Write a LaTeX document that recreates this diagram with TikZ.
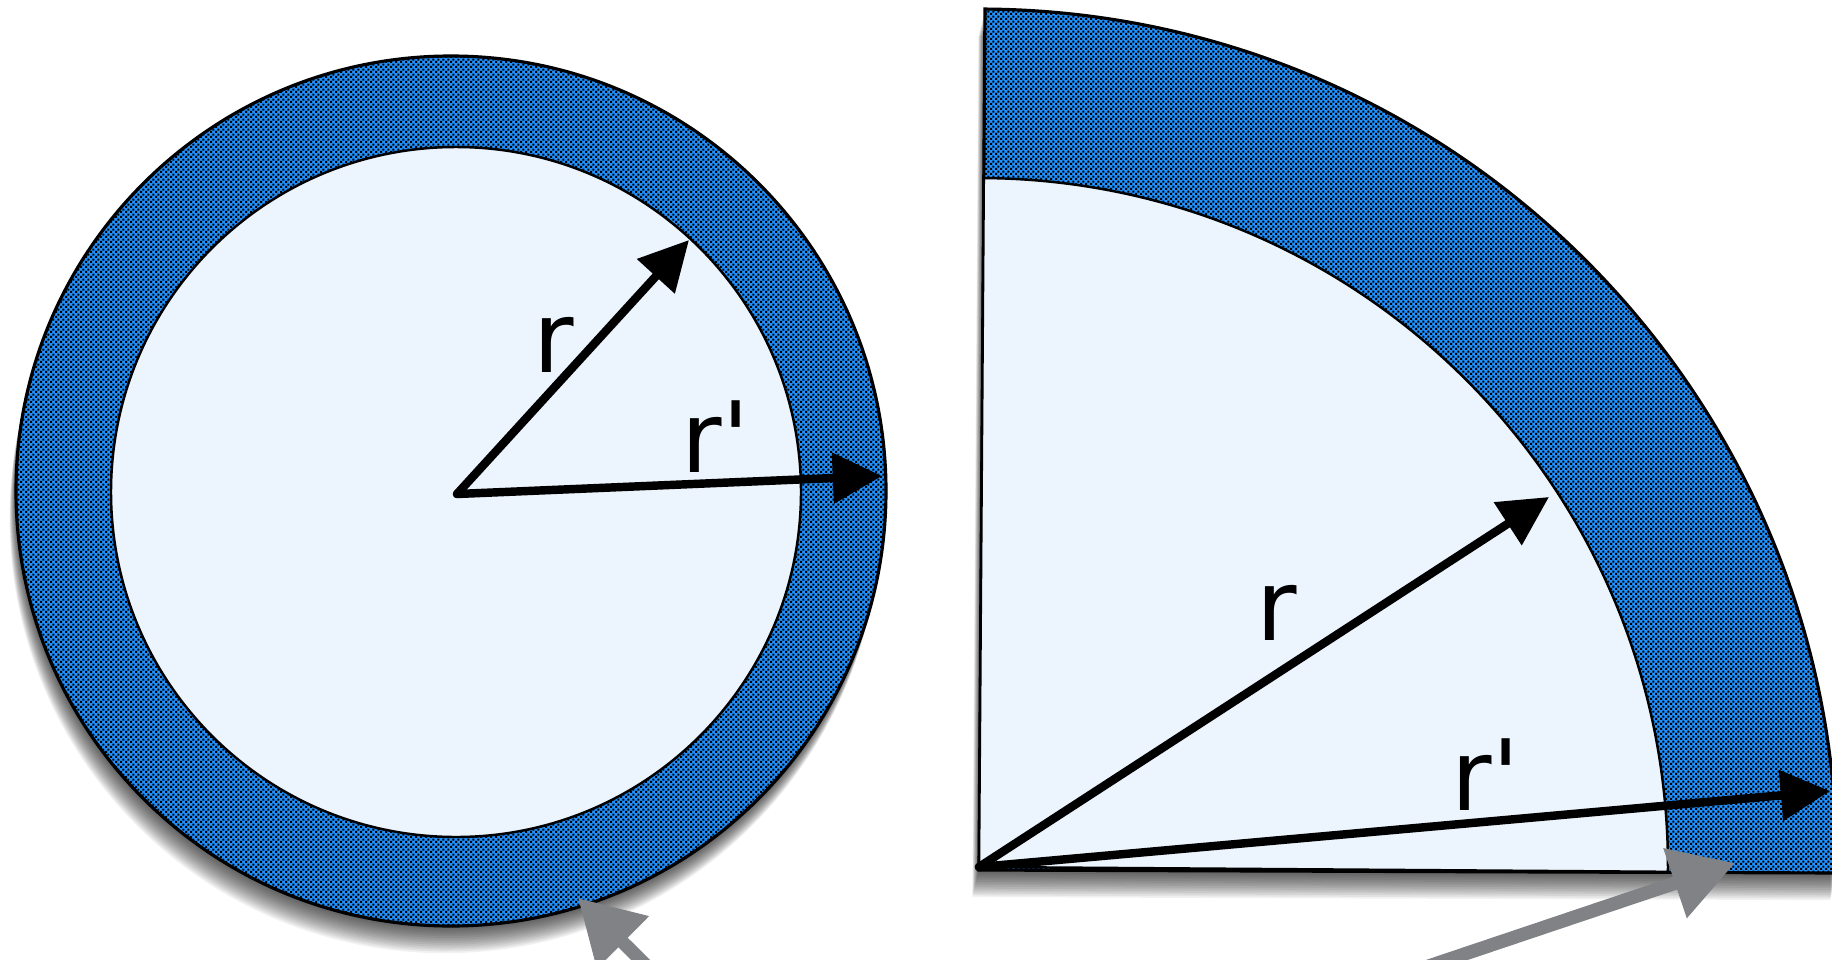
\documentclass[tikz,border=0pt]{standalone}
\usepackage{fontspec}
\setmainfont{DejaVu Sans}
\usetikzlibrary{arrows.meta,patterns.meta}
\definecolor{paleblue}{RGB}{236,244,253}
\definecolor{checkblue}{RGB}{32,146,255}
\definecolor{chalk}{RGB}{128,130,134}
\tikzdeclarepattern{
    name=checks,
    type=uncolored,
    bounding box={(0pt,0pt) and (1.5pt,1.5pt)},
    tile size={(1.5pt,1.5pt)},
    code={
        \fill (0.05pt,0.05pt) rectangle (0.68pt,0.68pt);
        \fill (0.8pt,0.8pt) rectangle (1.43pt,1.43pt);
    }
}
\tikzset{
    ring/.style={preaction={fill=checkblue}, pattern=checks, pattern color=black, draw=black, line width=0.9pt},
    core/.style={fill=paleblue, draw=black, line width=0.7pt},
    castshadow/.style={fill=black, opacity=0.055},
    radius arrow/.style={line width=2.4pt, line cap=round, -{Triangle[length=14pt,width=14pt]}},
    chalk arrow/.style={draw=chalk, line width=3.8pt, -{Triangle[length=18pt,width=20pt]}},
    rlabel/.style={font=\fontsize{28}{34}\selectfont, inner sep=0pt, anchor=base west}
}

\begin{document}
\begin{tikzpicture}[x=0.01cm, y=0.01cm]
    \useasboundingbox (0,0) rectangle (1832,959);
    \fill[white] (0,0) rectangle (1832,959);
    \clip (0,0) rectangle (1832,959);

    % Full circle
    \foreach \i in {1,...,16}
        \fill[castshadow, shift={(-0.4*\i,-1.7*\i)}] (451,468) circle (435);
    \path[ring] (451,468) circle (435);
    \path[core] (456,467) circle (345);

    % Quarter circle
    \begin{scope}[rotate around={-0.4:(979,92)}]
        \foreach \i in {1,...,16}
            \fill[castshadow, shift={(-0.4*\i,-1.7*\i)}] (979,89) -- (979,950) arc[start angle=90, end angle=0, radius=858] -- cycle;
        \path[ring] (979,89) -- (979,950) arc[start angle=90, end angle=0, radius=858] -- cycle;
        \path[core] (979,92) -- (979,781) arc[start angle=90, end angle=0, radius=689] -- cycle;
    \end{scope}

    \coordinate (co) at (457,465);
    \coordinate (cr) at (689,719);
    \coordinate (crp) at (882,483);
    \coordinate (qo) at (979,92);
    \coordinate (qr) at (1549,462);
    \coordinate (qrp) at (1830,168);

    \draw[radius arrow] (co) -- (cr);
    \draw[radius arrow] (co) -- (crp);
    \draw[radius arrow] (qo) -- (qr);
    \draw[radius arrow] (qo) -- (qrp);

    \node[rlabel] (rL) at (533,587) {r};
    \node[rlabel] (rpL) at (681,487) {r\textquotesingle};
    \node[rlabel] (rQ) at (1256,319) {r};
    \node[rlabel] (rpQ) at (1451,149) {r\textquotesingle};

    % Pointers from below
    \coordinate (tailA) at (665,-25);
    \coordinate (tipA) at (578,61);
    \coordinate (tailB) at (1420,-10);
    \coordinate (tipB) at (1735,96);
    \draw[chalk arrow] (tailA) -- (tipA);
    \draw[chalk arrow] (tailB) -- (tipB);
\end{tikzpicture}
\end{document}
